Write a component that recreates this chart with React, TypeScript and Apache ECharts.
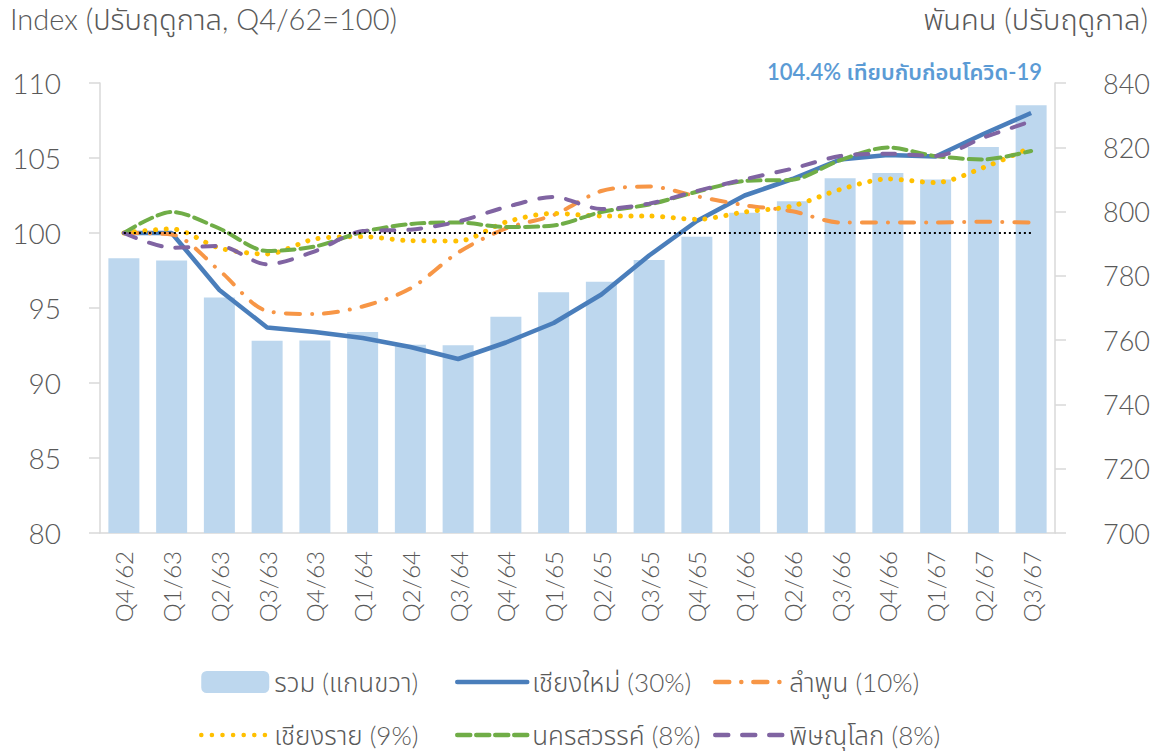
import React, { useEffect, useRef } from "react";
import * as echarts from "echarts";

const categories = ["Q4/62","Q1/63","Q2/63","Q3/63","Q4/63","Q1/64","Q2/64","Q3/64","Q4/64","Q1/65","Q2/65","Q3/65","Q4/65","Q1/66","Q2/66","Q3/66","Q4/66","Q1/67","Q2/67","Q3/67"];
const total = [785.5, 784.8, 773.3, 759.8, 759.9, 762.5, 758.6, 758.4, 767.3, 774.9, 778.2, 784.9, 792.2, 799.6, 803.2, 810.4, 812.0, 810.0, 820.1, 833.1];
const chiangMai = [100, 100, 96.2, 93.7, 93.4, 93.0, 92.4, 91.6, 92.7, 94.0, 95.9, 98.5, 100.8, 102.5, 103.6, 104.9, 105.2, 105.1, 106.6, 108.0];
const lamphun = [100, 99.9, 97.5, 94.8, 94.6, 95.1, 96.3, 98.7, 100.3, 101.2, 102.8, 103.1, 102.45, 101.85, 101.45, 100.7, 100.7, 100.7, 100.75, 100.7];
const chiangRai = [100, 100.27, 99.0, 98.6, 99.6, 99.76, 99.49, 99.47, 100.73, 101.31, 101.13, 101.13, 100.91, 101.4, 101.8, 102.9, 103.6, 103.36, 104.36, 105.7];
const nakhonSawan = [100, 101.4, 100.3, 98.8, 99.1, 100.07, 100.6, 100.7, 100.4, 100.5, 101.4, 101.9, 102.75, 103.47, 103.55, 104.85, 105.7, 105.13, 104.9, 105.47];
const phitsanulok = [100, 99.02, 99.13, 97.91, 98.78, 100.13, 100.22, 100.76, 101.73, 102.4, 101.6, 101.96, 102.8, 103.58, 104.29, 105.13, 105.29, 105.13, 106.36, 107.45];
const baseline = 100;

const names = {
  total: "รวม (แกนขวา)",
  cm: "เชียงใหม่ (30%)",
  lp: "ลำพูน (10%)",
  cr: "เชียงราย (9%)",
  ns: "นครสวรรค์ (8%)",
  pl: "พิษณุโลก (8%)",
};

const FONT = "Lato, 'Noto Sans Thai', 'Noto Sans', sans-serif";
const W = 300;
const GREY = "#595959";

export default function App() {
  const ref = useRef<HTMLDivElement>(null);
  useEffect(() => {
    document.body.style.margin = "0";
    const chart = echarts.init(ref.current!, null, { renderer: "svg" });
    const legendCommon = {
      orient: "vertical",
      top: 669,
      height: 120,
      padding: 0,
      itemGap: 27,
      itemHeight: 22,
      lineStyle: { width: 4.5, cap: "round" },
      textStyle: { fontSize: 26, color: GREY, fontFamily: FONT, fontWeight: W, lineHeight: 22 },
    };
    const hide = { opacity: 0 };
    chart.setOption({
      animation: false,
      textStyle: { fontFamily: FONT, fontWeight: W },
      grid: { left: 100, right: 100, top: 83, bottom: 218 },
      legend: [
        { ...legendCommon, left: 199, itemWidth: 68, data: [{ name: names.total }, { name: names.cr, itemStyle: hide }] },
        { ...legendCommon, left: 455, itemWidth: 70, data: [{ name: names.cm, itemStyle: hide }, { name: names.ns, itemStyle: hide }] },
        { ...legendCommon, left: 713, itemWidth: 69, data: [{ name: names.lp, itemStyle: hide }, { name: names.pl, itemStyle: hide }] },
      ],
      xAxis: {
        type: "category",
        data: categories,
        axisLine: { lineStyle: { color: "#d9d9d9", width: 1.5 } },
        axisTick: { show: false },
        axisLabel: { rotate: 90, fontSize: 24, color: GREY, margin: 18, interval: 0, fontWeight: W },
      },
      yAxis: [
        {
          type: "value",
          min: 80,
          max: 110,
          interval: 5,
          position: "left",
          splitLine: { show: false },
          axisLine: { show: true, lineStyle: { color: "#d9d9d9", width: 1.5 } },
          axisTick: { show: true, length: 11, lineStyle: { color: "#d9d9d9", width: 1.5 } },
          axisLabel: { fontSize: 28, color: GREY, margin: 39, padding: [0, 0, 9, 0], fontWeight: W },
        },
        {
          type: "value",
          min: 700,
          max: 840,
          interval: 20,
          position: "right",
          splitLine: { show: false },
          axisLine: { show: true, lineStyle: { color: "#d9d9d9", width: 1.5 } },
          axisTick: { show: true, length: 11, lineStyle: { color: "#d9d9d9", width: 1.5 } },
          axisLabel: { fontSize: 27, color: GREY, margin: 48, padding: [0, 0, 10, 0], fontWeight: W },
        },
      ],
      series: [
        {
          name: names.total,
          type: "bar",
          yAxisIndex: 1,
          data: total,
          barWidth: 31,
          itemStyle: { color: "#BDD7EE" },
          z: 1,
        },
        {
          name: names.cm,
          type: "line",
          data: chiangMai,
          symbol: "none",
          smooth: false,
          lineStyle: { color: "#4A7EBB", width: 4.5 },
          itemStyle: { color: "#4A7EBB" },
          z: 3,
          markLine: {
            silent: true,
            symbol: "none",
            label: { show: false },
            lineStyle: { color: "#000", type: [2, 3], width: 2 },
            data: [[{ coord: [categories[0], baseline] }, { coord: [categories[categories.length - 1], baseline] }]],
          },
        },
        {
          name: names.lp,
          type: "line",
          data: lamphun,
          symbol: "none",
          smooth: 0.3,
          lineStyle: { color: "#F79646", width: 4, type: [14, 12, 0.1, 12], cap: "round" },
          itemStyle: { color: "#F79646" },
          z: 3,
        },
        {
          name: names.cr,
          type: "line",
          data: chiangRai,
          symbol: "none",
          smooth: 0.3,
          lineStyle: { color: "#FFC000", width: 5, type: [0.1, 10.5], cap: "round" },
          itemStyle: { color: "#FFC000" },
          z: 3,
        },
        {
          name: names.ns,
          type: "line",
          data: nakhonSawan,
          symbol: "none",
          smooth: 0.3,
          lineStyle: { color: "#70AD47", width: 4, type: [13, 6], cap: "round" },
          itemStyle: { color: "#70AD47" },
          z: 3,
        },
        {
          name: names.pl,
          type: "line",
          data: phitsanulok,
          symbol: "none",
          smooth: 0.3,
          lineStyle: { color: "#8064A2", width: 4, type: [13, 14], cap: "round" },
          itemStyle: { color: "#8064A2" },
          z: 3,
        },
      ],
      graphic: [
        {
          type: "text",
          left: 10,
          top: 4,
          style: { text: "Index (ปรับฤดูกาล, Q4/62=100)", fontSize: 29, fill: GREY, fontFamily: FONT, fontWeight: W },
        },
        {
          type: "text",
          right: 7,
          top: 4,
          style: { text: "พันคน (ปรับฤดูกาล)", fontSize: 29, fill: GREY, fontFamily: FONT, fontWeight: W },
        },
        {
          type: "text",
          right: 113,
          top: 60,
          style: { text: "104.4% เทียบกับก่อนโควิด-19", fontSize: 22, fontWeight: 600, fill: "#5B9BD5", fontFamily: FONT },
        },
      ],
    });
    return () => chart.dispose();
  }, []);
  return <div ref={ref} style={{ width: 1155, height: 751 }} />;
}
